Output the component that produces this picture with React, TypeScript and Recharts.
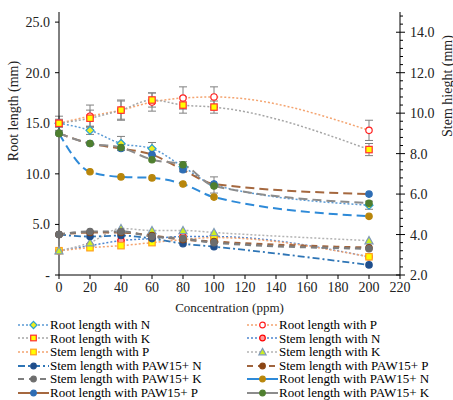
import React from "react";
import { ComposedChart, Line, XAxis, YAxis, Legend, ErrorBar, Label } from "recharts";

const concentration = [0, 20, 40, 60, 80, 100, 200];

// root length (left axis, mm)
const rootN = [15.0, 14.3, 13.0, 12.5, 10.7, 8.9, 6.9];
const rootP = [15.0, 15.7, 16.3, 17.1, 17.5, 17.6, 14.3];
const rootK = [15.0, 15.5, 16.3, 17.3, 16.8, 16.6, 12.4];
const rootPawN = [14.0, 10.2, 9.7, 9.6, 9.0, 7.7, 5.8];
const rootPawP = [14.0, 13.0, 12.5, 11.9, 10.4, 9.0, 8.0];
const rootPawK = [14.0, 13.0, 12.6, 11.4, 10.9, 8.8, 7.1];

const rootNErr = [0.3, 0.4, 0.7, 0.6, 0.5, 0.8, 0.4];
const rootPErr = [0.7, 1.1, 1.0, 0.9, 1.1, 1.0, 1.0];
const rootKErr = [0.4, 0.8, 0.9, 0.7, 0.8, 0.6, 0.6];

// stem height (right axis, mm)
const stemN = [3.2, 3.45, 3.7, 3.8, 3.9, 3.9, 2.9];
const stemP = [3.2, 3.35, 3.45, 3.6, 3.75, 3.85, 2.9];
const stemK = [3.2, 3.6, 4.3, 4.2, 4.2, 4.1, 3.7];
const stemPawN = [4.0, 3.9, 3.95, 3.8, 3.55, 3.4, 2.5];
const stemPawP = [4.0, 4.1, 4.1, 3.95, 3.75, 3.65, 3.35];
const stemPawK = [4.0, 4.15, 4.15, 3.9, 3.8, 3.6, 3.3];

const xTicks = [0, 20, 40, 60, 80, 100, 120, 140, 160, 180, 200, 220];
const leftTicks = [0, 5, 10, 15, 20, 25];
const rightMajor = [2, 4, 6, 8, 10, 12, 14];
const rightTicks = [
  2, 2.4, 2.8, 3.2, 3.6, 4, 4.4, 4.8, 5.2, 5.6, 6, 6.4, 6.8, 7.2, 7.6, 8, 8.4, 8.8, 9.2, 9.6,
  10, 10.4, 10.8, 11.2, 11.6, 12, 12.4, 12.8, 13.2, 13.6, 14, 14.4, 14.8,
];

const data = concentration.map((c, i) => ({
  x: c,
  rootN: rootN[i],
  rootP: rootP[i],
  rootK: rootK[i],
  stemN: stemN[i],
  stemP: stemP[i],
  stemK: stemK[i],
  stemPawN: stemPawN[i],
  stemPawP: stemPawP[i],
  stemPawK: stemPawK[i],
  rootPawN: rootPawN[i],
  rootPawP: rootPawP[i],
  rootPawK: rootPawK[i],
  rootNErr: rootNErr[i],
  rootPErr: rootPErr[i],
  rootKErr: rootKErr[i],
}));

const FONT = "Liberation Serif, Times New Roman, serif";

type Shape = "circle" | "square" | "diamond" | "triangle";

type S = {
  key: string;
  name: string;
  axis: "left" | "right";
  color: string;
  dash: string;
  legendDash?: string;
  width: number;
  shape: Shape;
  fill: string;
  mark: string;
  err?: string;
};

const series: S[] = [
  { key: "rootN", name: "Root length with N", axis: "left", color: "#5b9bd5", dash: "2 2", width: 1.5, shape: "diamond", fill: "#eeee20", mark: "#28a0d0", err: "rootNErr" },
  { key: "rootP", name: "Root length with P", axis: "left", color: "#f4a470", dash: "2 2", width: 1.5, shape: "circle", fill: "#ffffff", mark: "#ff2020", err: "rootPErr" },
  { key: "rootK", name: "Root length with K", axis: "left", color: "#a6a6a6", dash: "2 2", width: 1.5, shape: "square", fill: "#ffff00", mark: "#ff3030", err: "rootKErr" },
  { key: "stemN", name: "Stem length with N", axis: "right", color: "#4f86d0", dash: "2 2", width: 1.5, shape: "circle", fill: "#ff9a9a", mark: "#ff0000" },
  { key: "stemP", name: "Stem length with P", axis: "right", color: "#f4a470", dash: "2 2", width: 1.5, shape: "square", fill: "#ffff00", mark: "#ffa020" },
  { key: "stemK", name: "Stem length with K", axis: "right", color: "#b4b4b4", dash: "2 2", width: 1.5, shape: "triangle", fill: "#ccee22", mark: "#7f9ab8" },
  { key: "stemPawN", name: "Stem length with PAW15+ N", axis: "right", color: "#2e75b6", dash: "7 3 2 3", width: 1.8, shape: "circle", fill: "#1f4e8c", mark: "#1f4e8c" },
  { key: "stemPawP", name: "Stem length with PAW15+ P", axis: "right", color: "#a0653f", dash: "6 5", width: 2.2, shape: "circle", fill: "#8b4513", mark: "#8b4513" },
  { key: "stemPawK", name: "Stem length with PAW15+ K", axis: "right", color: "#7f7f7f", dash: "6 5", width: 2.2, shape: "circle", fill: "#6d6d6d", mark: "#6d6d6d" },
  { key: "rootPawN", name: "Root length with PAW15+ N", axis: "left", color: "#2e8ad8", dash: "9 5", legendDash: "none", width: 2, shape: "circle", fill: "#b8860b", mark: "#b8860b" },
  { key: "rootPawP", name: "Root length with PAW15+ P", axis: "left", color: "#a5683f", dash: "9 5", legendDash: "none", width: 2, shape: "circle", fill: "#2e6db4", mark: "#2e6db4" },
  { key: "rootPawK", name: "Root length with PAW15+ K", axis: "left", color: "#8c8c8c", dash: "9 5", legendDash: "none", width: 2, shape: "circle", fill: "#4f7f2f", mark: "#4f7f2f" },
];

function Marker({ cx, cy, shape, fill, stroke, r = 3.2 }: any) {
  if (cx == null || cy == null) return null;
  const common = { fill, stroke, strokeWidth: 1.2 };
  if (shape === "square") return <rect x={cx - r} y={cy - r} width={2 * r} height={2 * r} {...common} />;
  if (shape === "diamond") {
    const d = r + 0.8;
    return <polygon points={`${cx},${cy - d} ${cx + d},${cy} ${cx},${cy + d} ${cx - d},${cy}`} {...common} />;
  }
  if (shape === "triangle") {
    const d = r + 0.8;
    return <polygon points={`${cx},${cy - d} ${cx + d},${cy + r} ${cx - d},${cy + r}`} {...common} />;
  }
  return <circle cx={cx} cy={cy} r={r} {...common} />;
}

const RightTick = (props: any) => {
  const { x, y, payload } = props;
  const v = payload.value;
  const major = rightMajor.some((m) => Math.abs(m - v) < 1e-6);
  if (!major) return <line x1={x} y1={y} x2={x + 3} y2={y} stroke="#000" />;
  return (
    <g>
      <line x1={x - 4} y1={y} x2={x + 5} y2={y} stroke="#000" />
      <text x={x + 10} y={y} dy={5} fontSize={14} fontFamily={FONT} fill="#222">
        {v.toFixed(1)}
      </text>
    </g>
  );
};

const renderLegend = () => (
  <div
    style={{
      display: "grid",
      gridTemplateColumns: "229px 206px",
      paddingLeft: 18,
      fontFamily: FONT,
      fontSize: 13,
      lineHeight: "13.6px",
      color: "#000",
    }}
  >
    {series.map((s) => (
      <div key={s.key} style={{ display: "flex", alignItems: "center", whiteSpace: "nowrap" }}>
        <svg width={31} height={10}>
          <line
            x1={0}
            y1={5}
            x2={31}
            y2={5}
            stroke={s.color}
            strokeWidth={s.width}
            strokeDasharray={s.legendDash ?? s.dash}
          />
          <Marker cx={15.5} cy={5} shape={s.shape} fill={s.fill} stroke={s.mark} r={2.8} />
        </svg>
        <span style={{ marginLeft: 1 }}>{s.name}</span>
      </div>
    ))}
  </div>
);

export default function App() {
  return (
    <div style={{ position: "absolute", left: 0, top: 0, width: 453, height: 400, background: "#fff" }}>
      <ComposedChart width={453} height={400} data={data} margin={{ top: 12, right: 0, bottom: 85, left: 0 }}>
        <XAxis
          dataKey="x"
          type="number"
          domain={[0, 220]}
          ticks={xTicks}
          height={40}
          tickSize={4}
          tickMargin={3}
          axisLine={{ stroke: "#000" }}
          tickLine={{ stroke: "#000" }}
          tick={{ fontSize: 14, fontFamily: FONT, fill: "#222" }}
        >
          <Label
            content={() => (
              <text x={229.5} y={312} textAnchor="middle" fontSize={13} fontFamily={FONT} fill="#222">
                Concentration (ppm)
              </text>
            )}
          />
        </XAxis>
        <XAxis xAxisId="top" orientation="top" dataKey="x" type="number" domain={[0, 220]} height={0} tick={false} tickLine={false} axisLine={{ stroke: "#000" }} />
        <YAxis
          yAxisId="left"
          domain={[0, 26]}
          ticks={leftTicks}
          width={59}
          tickSize={4}
          tickMargin={5}
          axisLine={{ stroke: "#000" }}
          tickLine={{ stroke: "#000" }}
          tick={{ fontSize: 14, fontFamily: FONT, fill: "#222" }}
          tickFormatter={(v: number) => (v === 0 ? "-" : v.toFixed(1))}
        >
          <Label
            content={() => (
              <text x={13} y={111} transform="rotate(-90 13 111)" textAnchor="middle" dominantBaseline="central" fontSize={14} fontFamily={FONT} fill="#222">
                Root length (mm)
              </text>
            )}
          />
        </YAxis>
        <YAxis
          yAxisId="right"
          orientation="right"
          domain={[2, 15]}
          ticks={rightTicks}
          interval={0}
          width={53}
          tickSize={0}
          tickMargin={0}
          tickLine={false}
          axisLine={{ stroke: "#000" }}
          tick={<RightTick />}
        >
          <Label
            content={() => (
              <text x={447} y={86} transform="rotate(-90 447 86)" textAnchor="middle" dominantBaseline="central" fontSize={14} fontFamily={FONT} fill="#222">
                Stem hieght (mm)
              </text>
            )}
          />
        </YAxis>
        {series.map((s) => (
          <Line
            key={s.key}
            yAxisId={s.axis}
            dataKey={s.key}
            name={s.name}
            type="monotone"
            stroke={s.color}
            strokeWidth={s.width}
            strokeDasharray={s.dash}
            isAnimationActive={false}
            dot={(p: any) => <Marker key={p.index} cx={p.cx} cy={p.cy} shape={s.shape} fill={s.fill} stroke={s.mark} />}
            activeDot={false}
          >
            {s.err ? <ErrorBar dataKey={s.err} width={4} stroke="#808080" strokeWidth={1} direction="y" /> : null}
          </Line>
        ))}
        <Legend
          verticalAlign="middle"
          align="center"
          layout="horizontal"
          wrapperStyle={{ top: 318, left: 0, width: 453 }}
          content={renderLegend}
        />
      </ComposedChart>
    </div>
  );
}
